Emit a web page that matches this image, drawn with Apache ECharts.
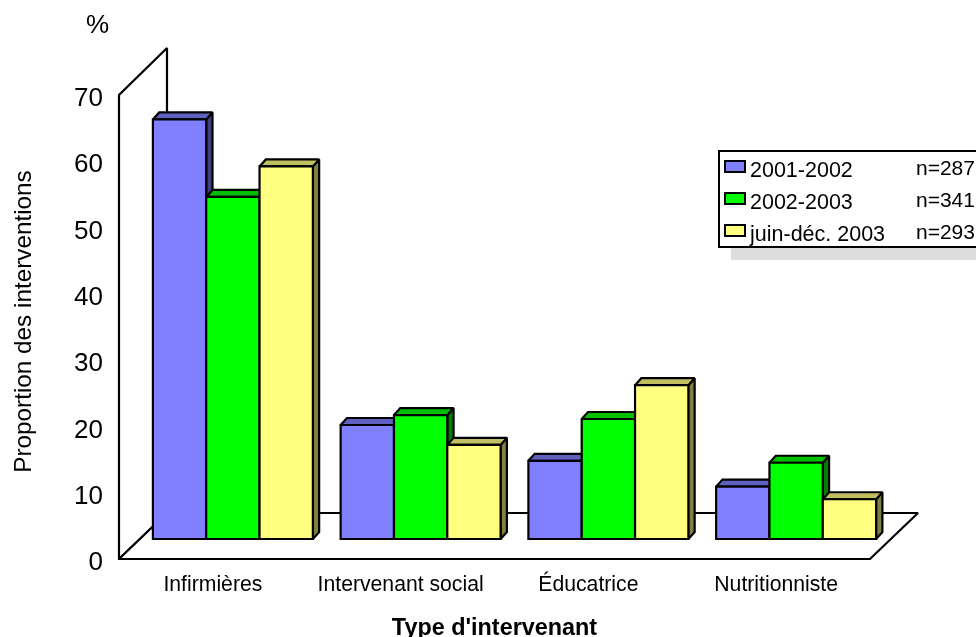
<!DOCTYPE html>
<html lang="fr">
<head>
<meta charset="utf-8">
<title>Proportion des interventions par type d'intervenant</title>
<style>
  html, body { margin: 0; padding: 0; background: #fff; }
  #chart { width: 976px; height: 637px; overflow: hidden; }
</style>
<script src="https://cdn.jsdelivr.net/npm/echarts@6/dist/echarts.min.js"></script>
</head>
<body>
<div id="chart"></div>
<script>
const categories = ['Infirmières', 'Intervenant social', 'Éducatrice', 'Nutritionniste'];
const periods = ['2001-2002', '2002-2003', 'juin-déc. 2003'];
const sampleSizes = ['n=287', 'n=341', 'n=293'];
const values2001 = [63.3, 17.2, 11.8, 7.9];
const values2002 = [51.6, 18.7, 18.1, 11.5];
const values2003 = [56.2, 14.2, 23.2, 6.0];
const valueTicks = { min: 0, max: 70, interval: 10 };

// Face colours of each box: front, top, side
const palettes = [
  ['#8080ff', '#6060c0', '#404080'],
  ['#00ff00', '#00c000', '#008000'],
  ['#ffff80', '#c0c060', '#808040']
];

// Oblique projection used for the pseudo-3D look
const FLOOR_DX = 48, FLOOR_DY = 46;   // floor depth
const BAR_DX = 20, BAR_DY = 20;       // front plane of the boxes
const BOX_DX = 6.3, BOX_DY = 7;       // depth of one box
const GROUP_RATIO = 0.852;            // share of a category taken by its boxes
const FONT = '"Liberation Sans", Arial, sans-serif';
const EDGE = { stroke: '#000', lineWidth: 2.2, lineJoin: 'miter', miterLimit: 2 };

function polygon(points, fill) {
  return { type: 'polygon', shape: { points }, style: Object.assign({ fill }, EDGE) };
}

// Left wall and floor of the plot box
function renderStage(params) {
  const r = params.coordSys;
  const b = r.y + r.height, R = r.x + r.width;
  return {
    type: 'group',
    children: [
      polygon([[r.x, b], [r.x, r.y], [r.x + FLOOR_DX, r.y - FLOOR_DY - 1], [r.x + FLOOR_DX, b - FLOOR_DY]], '#fff'),
      polygon([[r.x, b], [R, b], [R + FLOOR_DX, b - FLOOR_DY], [r.x + FLOOR_DX, b - FLOOR_DY]], '#fff')
    ]
  };
}

// One pseudo-3D box per data item; the series index picks its slot in the group
function makeBoxRenderer(slot) {
  const [front, top, side] = palettes[slot];
  return function (params, api) {
    const base = api.coord([api.value(0), 0]);
    const head = api.coord([api.value(0), api.value(1)]);
    const w = api.size([1, 0])[0] * GROUP_RATIO / periods.length;
    const x0 = base[0] + BAR_DX + (slot - periods.length / 2) * w;
    const x1 = x0 + w;
    const yb = base[1] - BAR_DY;
    const yt = head[1] - BAR_DY;
    return {
      type: 'group',
      children: [
        polygon([[x1, yb], [x1, yt], [x1 + BOX_DX, yt - BOX_DY], [x1 + BOX_DX, yb - BOX_DY]], side),
        polygon([[x0, yt], [x1, yt], [x1 + BOX_DX, yt - BOX_DY], [x0 + BOX_DX, yt - BOX_DY]], top),
        polygon([[x0, yb], [x1, yb], [x1, yt], [x0, yt]], front)
      ]
    };
  };
}

const seriesValues = [values2001, values2002, values2003];

const boxSeries = periods.map((name, slot) => ({
  type: 'custom',
  name,
  z: 3 + slot,
  coordinateSystem: 'cartesian2d',
  clip: false,
  itemStyle: { color: palettes[slot][0] },
  encode: { x: 0, y: 1 },
  data: seriesValues[slot].map((v, i) => [i, v]),
  renderItem: makeBoxRenderer(slot)
}));

const chart = echarts.init(document.getElementById('chart'), null, { renderer: 'canvas' });

chart.setOption({
  animation: false,
  backgroundColor: '#fff',
  textStyle: { fontFamily: FONT },
  grid: { left: 119, right: 106, top: 95, bottom: 78, containLabel: false, outerBoundsMode: 'none' },
  xAxis: {
    type: 'category',
    data: categories,
    axisTick: { show: false },
    axisLine: { lineStyle: { color: '#000', width: 2 } },
    axisLabel: { color: '#000', fontSize: 21.2, fontFamily: FONT, margin: 16, interval: 0 },
    name: "Type d'intervenant",
    nameLocation: 'middle',
    nameGap: 58,
    nameTextStyle: { color: '#000', fontSize: 23.4, fontWeight: 'bold', fontFamily: FONT }
  },
  yAxis: {
    type: 'value',
    min: valueTicks.min,
    max: valueTicks.max,
    interval: valueTicks.interval,
    splitLine: { show: false },
    axisTick: { show: false },
    axisLine: { show: true, lineStyle: { color: '#000', width: 2 } },
    axisLabel: {
      margin: 16,
      formatter: '{tick|{value}}',
      rich: { tick: { color: '#000', fontSize: 26, fontFamily: FONT, padding: [8, 0, 0, 0] } }
    },
    name: 'Proportion des interventions',
    nameLocation: 'middle',
    nameRotate: 90,
    nameGap: 83,
    nameTextStyle: { color: '#000', fontSize: 24.3, fontFamily: FONT, padding: [0, 0, 0, 11] }
  },
  legend: {
    data: periods,
    orient: 'vertical',
    left: 724,
    top: 160,
    z: 10,
    padding: 0,
    itemGap: 10,
    itemWidth: 20,
    itemHeight: 11,
    icon: 'rect',
    selectedMode: false,
    itemStyle: { borderColor: '#000', borderWidth: 2 },
    formatter: name => `{label|${name}}`,
    textStyle: {
      rich: { label: { color: '#000', fontSize: 21.5, fontFamily: FONT, padding: [9, 0, 0, 0] } }
    }
  },
  graphic: [
    { type: 'rect', z: 5, shape: { x: 731, y: 247, width: 260, height: 13 }, style: { fill: '#dddddd' } },
    { type: 'rect', z: 6, shape: { x: 719, y: 151, width: 280, height: 96 }, style: { fill: '#fff', stroke: '#000', lineWidth: 2 } },
    { type: 'text', z: 11, left: 86, top: 13, style: { text: '%', fill: '#000', fontSize: 26, fontFamily: FONT } },
    ...sampleSizes.map((text, i) => ({
      type: 'text', z: 11, left: 916, top: 159 + i * 32,
      style: { text, fill: '#000', fontSize: 21, fontFamily: FONT }
    }))
  ],
  series: [
    {
      type: 'custom',
      name: 'stage',
      z: 1,
      coordinateSystem: 'cartesian2d',
      clip: false,
      silent: true,
      data: [[0, 0]],
      renderItem: renderStage
    },
    ...boxSeries
  ]
});
</script>
</body>
</html>
